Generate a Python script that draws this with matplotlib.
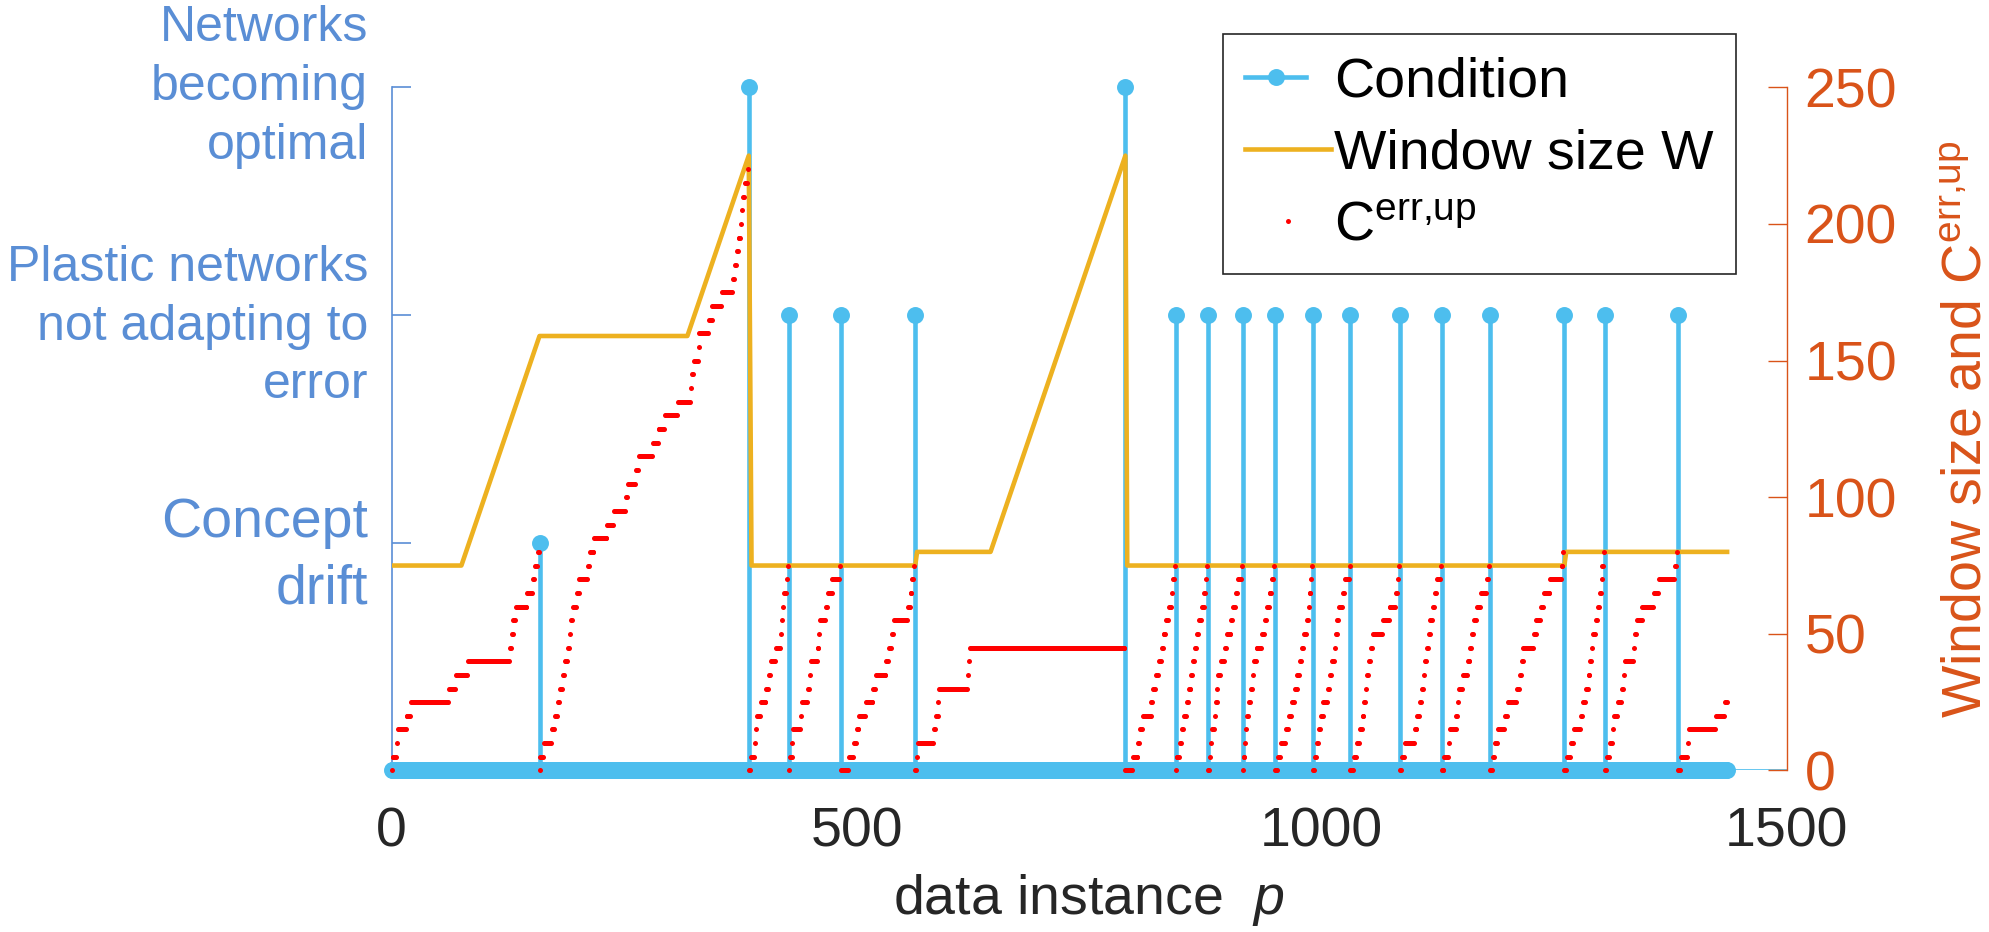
import numpy as np
import matplotlib.pyplot as plt
from matplotlib.lines import Line2D
from matplotlib.legend_handler import HandlerLine2D

plt.rcParams['font.family'] = ['Liberation Sans', 'DejaVu Sans']
plt.rcParams['mathtext.fontset'] = 'custom'
plt.rcParams['mathtext.rm'] = 'Liberation Sans'
plt.rcParams['mathtext.it'] = 'Liberation Sans:italic'

# ---- data ----
n_instances = 1437  # p = 0 .. 1436

# condition events (left axis): 1 = concept drift, 2 = plastic nets not adapting, 3 = optimal
event_p = [159, 384, 427, 483, 563, 789, 843, 878, 915, 950, 991, 1031,
           1084, 1129, 1181, 1261, 1305, 1383]
event_level = [1, 3, 2, 2, 2, 3, 2, 2, 2, 2, 2, 2, 2, 2, 2, 2, 2, 2]
cond_ticks = [1, 2, 3]
cond_labels = ['Concept\ndrift',
               'Plastic networks\nnot adapting to\nerror',
               'Networks\nbecoming\noptimal']

# window size W (right axis), corner points of the curve
w_p = [0, 75, 159, 318, 384, 387, 563, 565, 644, 789, 791, 1261, 1263, 1436]
w_val = [75, 75, 159, 159, 225, 75, 75, 80, 80, 225, 75, 75, 80, 80]

# C^err,up counter: rises by err_step at each listed instance, reset at every event
err_step = 5
err_steps = [
    [1, 6, 7, 16, 21, 62, 69, 82, 127, 129, 131, 134, 146, 152, 154, 157],
    [160, 164, 172, 176, 179, 181, 184, 186, 190, 192, 193, 195, 199, 202, 211,
     213, 218, 232, 239, 252, 254, 263, 266, 281, 287, 294, 308, 322, 323, 325,
     330, 331, 341, 345, 355, 367, 369, 371, 373, 376, 377, 378, 380, 383],
    [386, 391, 392, 393, 397, 403, 406, 408, 413, 419, 420, 421, 422, 425, 426],
    [428, 431, 432, 440, 441, 448, 450, 451, 458, 460, 461, 467, 469, 474, 482],
    [492, 497, 500, 503, 510, 518, 521, 532, 535, 538, 540, 555, 558, 560, 562],
    [565, 566, 583, 585, 588, 589, 620, 621, 622],
    [797, 803, 805, 808, 817, 819, 822, 825, 828, 830, 833, 836, 839, 840, 842],
    [844, 848, 850, 852, 855, 857, 860, 862, 864, 866, 868, 871, 874, 876, 877],
    [880, 881, 882, 885, 886, 888, 889, 892, 896, 898, 903, 905, 908, 910, 914],
    [916, 918, 919, 920, 922, 924, 926, 927, 930, 936, 939, 941, 944, 947, 949],
    [953, 956, 962, 965, 968, 971, 974, 977, 979, 981, 984, 986, 987, 989, 990],
    [993, 995, 997, 999, 1002, 1007, 1009, 1011, 1014, 1015, 1017, 1019, 1023, 1025, 1030],
    [1035, 1038, 1041, 1044, 1046, 1048, 1049, 1051, 1053, 1055, 1066, 1073, 1080, 1082, 1083],
    [1086, 1090, 1100, 1103, 1106, 1108, 1110, 1111, 1113, 1115, 1117, 1120, 1122, 1124, 1128],
    [1132, 1137, 1138, 1145, 1147, 1148, 1152, 1157, 1160, 1162, 1164, 1167, 1171, 1178, 1180],
    [1184, 1186, 1190, 1197, 1200, 1210, 1213, 1215, 1217, 1228, 1231, 1236, 1239, 1246, 1258, 1260],
    [1264, 1268, 1271, 1279, 1281, 1284, 1287, 1289, 1291, 1292, 1295, 1297, 1299, 1301, 1302, 1304],
    [1307, 1310, 1313, 1314, 1319, 1323, 1325, 1326, 1336, 1337, 1339, 1345, 1357, 1363, 1380, 1382],
    [1386, 1394, 1395, 1424, 1434],
]

x_ticks = [0, 500, 1000, 1500]
right_ticks = [0, 50, 100, 150, 200, 250]

# ---- build series ----
p = np.arange(n_instances)
condition = np.zeros(n_instances)
condition[event_p] = event_level

seg_start = [0] + event_p
seg_end = event_p + [n_instances]
err = np.zeros(n_instances)
for s, e, steps in zip(seg_start, seg_end, err_steps):
    err[s:e] = err_step * np.searchsorted(steps, p[s:e], side='right')

# ---- colours ----
stem_color = '#4DBEEE'
w_color = '#EDB120'
left_color = '#5A8ED5'
right_color = '#D95319'
text_color = '#262626'


class StemHandler(HandlerLine2D):
    # legend icon like MATLAB stem: line with the marker at its end
    def get_xdata(self, legend, xdescent, ydescent, width, height, fontsize):
        end = -xdescent + 0.7 * width
        return np.array([-xdescent, end]), np.array([end])


fig = plt.figure(figsize=(19.9, 9.32), dpi=100)
ax = fig.add_axes([0.1968, 0.1733, 0.7010, 0.7330])
ax2 = ax.twinx()

# left axis: condition stems
ax.axhline(0, color=stem_color, lw=1.2, zorder=1)
ev = condition > 0
ax.vlines(p[ev], 0, condition[ev], color=stem_color, lw=3.3, zorder=2)
ax.plot(p, condition, 'o', ms=12.2, mew=0, color=stem_color, clip_on=False, zorder=3)

# right axis: window size and counter
ax2.plot(w_p, w_val, color=w_color, lw=3.3, zorder=2)
ax2.plot(p, err, 'o', ms=3.6, mew=0, color='red', clip_on=False, zorder=3)

ax.set_xlim(0, 1500)
ax.set_ylim(0, 3)
ax2.set_ylim(0, 250)

for side in ['top', 'right', 'bottom']:
    ax.spines[side].set_visible(False)
for side in ['top', 'left', 'bottom']:
    ax2.spines[side].set_visible(False)
ax.spines['left'].set_color(left_color)
ax.spines['left'].set_linewidth(1.2)
ax2.spines['right'].set_color(right_color)
ax2.spines['right'].set_linewidth(1.0)

ax.set_xticks(x_ticks)
ax.tick_params(axis='x', length=0, pad=26, labelsize=40, labelcolor=text_color)
ax.set_yticks(cond_ticks)
ax.set_yticklabels(cond_labels, linespacing=1.36)
ax.tick_params(axis='y', direction='in', length=14, width=1.2, color=left_color,
               labelcolor=left_color, labelsize=36, pad=17)
ylabels = ax.get_yticklabels()
ylabels[0].set_fontsize(40)
ylabels[2].set_va('center')

ax2.set_yticks(right_ticks)
ax2.tick_params(axis='y', direction='in', length=14, width=1.0, color=right_color,
                labelcolor=right_color, labelsize=40, pad=13)

ax.set_xlabel(r'data instance  $p$', fontsize=40, color=text_color, labelpad=10)
ax2.set_ylabel(r'Window size and C$^{\mathrm{err{,}up}}$', fontsize=40,
               color=right_color, labelpad=32)

h_cond = Line2D([], [], color=stem_color, lw=3.3, marker='o', ms=12.2, mew=0)
h_w = Line2D([], [], color=w_color, lw=3.3)
h_err = Line2D([], [], color='red', ls='none', marker='o', ms=3.6, mew=0)
leg = ax2.legend([h_cond, h_w, h_err],
                 ['Condition', 'Window size W', r'C$^{\mathrm{err{,}up}}$'],
                 handler_map={h_cond: StemHandler(numpoints=1)},
                 loc='upper right', bbox_to_anchor=(1736 / 1990, 1 - 34 / 932),
                 bbox_transform=fig.transFigure, borderaxespad=0, fontsize=40,
                 fancybox=False, edgecolor=text_color, framealpha=1,
                 handlelength=1.55, handletextpad=0.05, borderpad=0.4,
                 labelspacing=0.36, numpoints=1)
leg.get_frame().set_linewidth(1.2)

fig.savefig('out.png', dpi=100)
